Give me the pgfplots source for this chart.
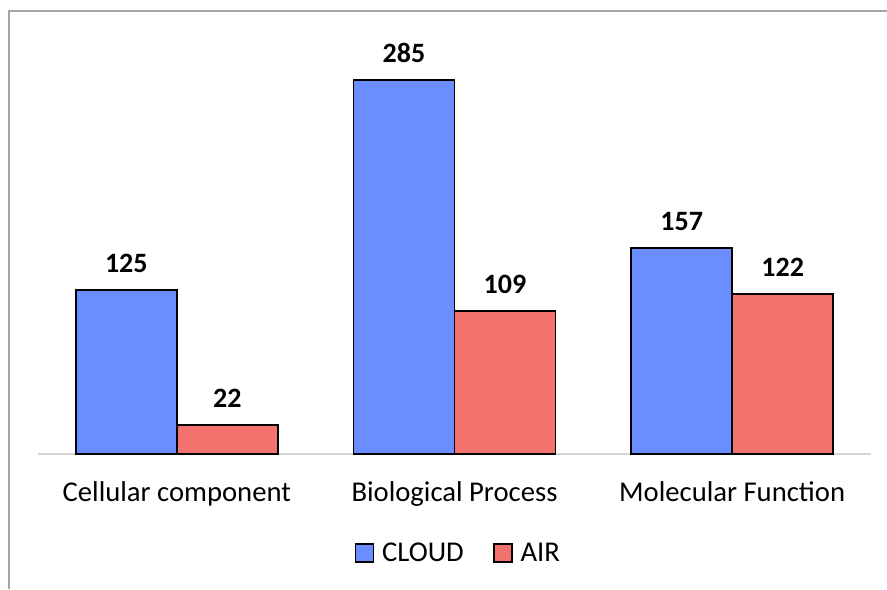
\documentclass[border=0pt]{standalone}
\usepackage{pgfplots}
\pgfplotsset{compat=1.18}
\usepackage{fontspec}
\setmainfont{Carlito}

\definecolor{cloudblue}{HTML}{6A8EFF}
\definecolor{airred}{HTML}{F4726D}
\definecolor{framegray}{HTML}{A6A6A6}
\definecolor{basegray}{HTML}{D4D4D4}

\begin{document}
\begin{tikzpicture}
\useasboundingbox (-28.5pt,-101.25pt) rectangle (636.75pt,340.5pt);
\draw[framegray, line width=1pt] (-21.75pt,-101.25pt) -- (-21.75pt,332.25pt) -- (636.75pt,332.25pt);
\begin{axis}[
    at={(0,0)}, anchor=south west,
    scale only axis,
    width=624.75pt, height=295.2pt,
    ybar=0pt, bar width=75.75pt,
    xmin=-0.5, xmax=2.5,
    ymin=0, ymax=300,
    xtick={0,1,2},
    xticklabels={Cellular component, Biological Process, Molecular Function},
    ytick=\empty,
    axis x line*=bottom,
    axis y line=none,
    x axis line style={draw=basegray, line width=1.1pt},
    xtick style={draw=none},
    xticklabel style={font=\fontsize{21.5}{21.5}\selectfont, yshift=-13pt},
    clip=false,
    /pgf/number format/assume math mode=true,
    nodes near coords,
    nodes near coords style={font=\bfseries\fontsize{21}{21}\selectfont, anchor=south, yshift=9pt},
    legend columns=2,
    legend style={draw=none, at={(0.505,-0.2515)}, anchor=center,
        font=\fontsize{21.5}{21.5}\selectfont,
        /tikz/every odd column/.append style={column sep=4pt},
        /tikz/every even column/.append style={column sep=20pt}},
    legend image code/.code={\draw[#1, line width=1.1pt] (0pt,-6.75pt) rectangle (13.5pt,6.75pt);},
]
\addplot[fill=cloudblue, draw=black, line width=1.1pt] coordinates {(0,125) (1,285) (2,157)};
\addlegendentry{CLOUD}
\addplot[fill=airred, draw=black, line width=1.1pt] coordinates {(0,22) (1,109) (2,122)};
\addlegendentry{AIR}
\end{axis}
\end{tikzpicture}
\end{document}
